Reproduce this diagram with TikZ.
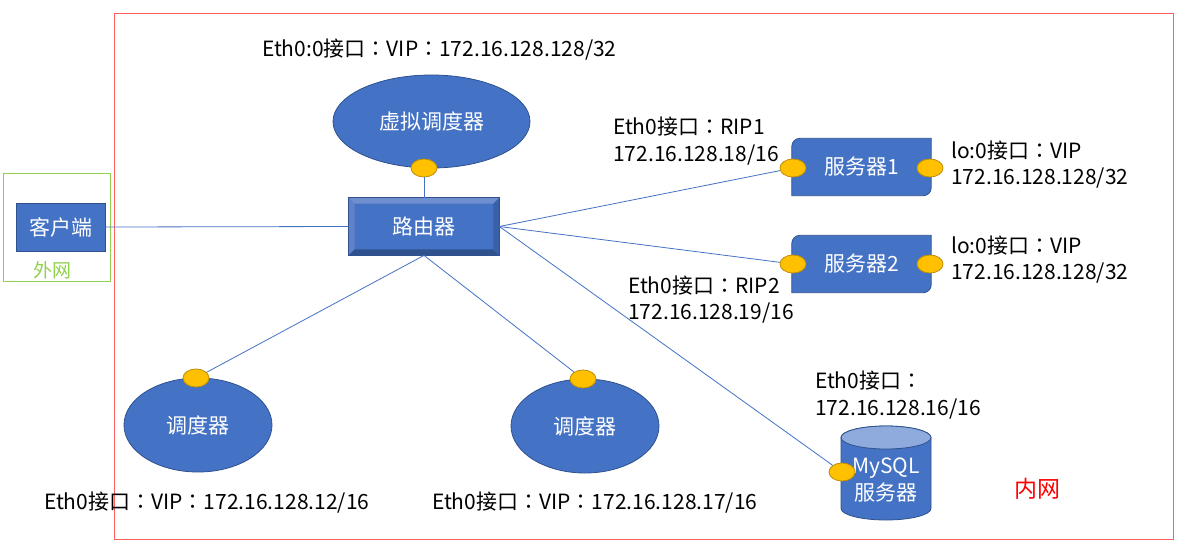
\documentclass[tikz,border=0pt]{standalone}
\usepackage{fontspec}
\setmainfont{Noto Sans CJK SC}
\newfontfamily\tcfont{Noto Sans CJK TC}
\newcommand{\qc}{{\tcfont ：}}
\usetikzlibrary{shapes.geometric,calc,backgrounds}
\definecolor{bfill}{HTML}{4472C4}
\definecolor{bdraw}{HTML}{2F528F}
\definecolor{blight}{HTML}{6F8FD0}
\definecolor{blight2}{HTML}{5F82C8}
\definecolor{bdark}{HTML}{2F528F}
\definecolor{bdark2}{HTML}{3A60A8}
\definecolor{dfill}{HTML}{FFC000}
\definecolor{ddraw}{HTML}{BF9000}
\definecolor{rframe}{HTML}{FF6060}
\definecolor{gframe}{HTML}{92D050}
\definecolor{cyltop}{HTML}{8FAADC}
\tikzset{
  boxst/.style={rectangle, fill=bfill, draw=bdraw, line width=0.8pt, text=white, inner sep=0pt},
  routerst/.style={rectangle, fill=bfill, draw=bdraw, line width=0.8pt, text=white, inner sep=0pt},
  ellst/.style={ellipse, fill=bfill, draw=bdraw, line width=0.8pt, text=white, inner sep=0pt},
  srvst/.style={rectangle, text=white, inner sep=0pt, minimum width=139pt, minimum height=57pt},
  srvshape/.style={fill=bfill, draw=bdraw, line width=0.8pt},
  dotst/.style={ellipse, fill=dfill, draw=ddraw, line width=0.8pt, inner sep=0pt, minimum width=26pt, minimum height=18pt},
  conn/.style={draw=bfill, line width=0.8pt},
  lbl/.style={anchor=west, inner sep=0pt, align=left, text=black}
}
\begin{document}
\begin{tikzpicture}[x=1pt,y=-1pt,font=\fontsize{21}{26.5}\selectfont]
\useasboundingbox (0,0) rectangle (1184,550);
\begin{scope}[on background layer]
\fill[white] (0,0) rectangle (1184,550);
\end{scope}
% frames
\draw[rframe, line width=1pt] (114,13) rectangle (1173,539);
\draw[gframe, line width=1pt] (3,173) rectangle (110,281);
% client
\node[boxst, minimum width=89pt, minimum height=48pt] (cl) at (60.5,227) {客户端};
\node[text=gframe, inner sep=0pt, font=\fontsize{19}{22}\selectfont] (ww) at (53,270) {外网};
% router
\node[routerst, minimum width=150pt, minimum height=57pt] (rt) at (424,226.5) {路由器};
\fill[blight] (rt.north west) -- (rt.north east) -- ($(rt.north east)+(-6,6)$) -- ($(rt.north west)+(6,6)$) -- cycle;
\fill[blight2] (rt.north west) -- ($(rt.north west)+(6,6)$) -- ($(rt.south west)+(6,-6)$) -- (rt.south west) -- cycle;
\fill[bdark] (rt.south west) -- ($(rt.south west)+(6,-6)$) -- ($(rt.south east)+(-6,-6)$) -- (rt.south east) -- cycle;
\fill[bdark2] (rt.north east) -- ($(rt.north east)+(-6,6)$) -- ($(rt.south east)+(-6,-6)$) -- (rt.south east) -- cycle;
\draw[bdraw, line width=0.8pt] (rt.north west) rectangle (rt.south east);
% virtual scheduler
\node[ellst, minimum width=197pt, minimum height=93pt] (vs) at (431.5,121.5) {虚拟调度器};
\node[dotst] (vsd) at (424,168) {};
% schedulers
\node[ellst, minimum width=148pt, minimum height=94pt] (sc1) at (198,425) {调度器};
\node[dotst] (sc1d) at (196,378) {};
\node[ellst, minimum width=148pt, minimum height=94pt] (sc2) at (585,426) {调度器};
\node[dotst] (sc2d) at (583,379) {};
% servers
\node[srvst] (s1) at (861.5,167) {服务器1};
\node[srvst] (s2) at (861.5,264) {服务器2};
\begin{scope}[on background layer]
\foreach \s in {s1,s2}{
  \draw[srvshape] (\s.south west) [rounded corners=8pt] -- (\s.north west) [sharp corners] -- (\s.north east) [rounded corners=8pt] -- (\s.south east) [sharp corners] -- cycle;
}
\end{scope}
\node[dotst] (s1l) at (793,168) {};
\node[dotst] (s1r) at (930,168) {};
\node[dotst] (s2l) at (793,264) {};
\node[dotst] (s2r) at (930,264) {};
% database
\node[inner sep=0pt, align=center, text=white, font=\fontsize{21}{27}\selectfont] (db) at (886,480) {MySQL\\服务器};
\begin{scope}[on background layer]
\draw[srvshape] (841,437.5) -- (841,508.5) arc[start angle=180, end angle=360, x radius=45pt, y radius=11.5pt] -- (931,437.5) arc[start angle=0, end angle=180, x radius=45pt, y radius=11.5pt] -- cycle;
\draw[fill=cyltop, draw=bdraw, line width=0.8pt] (886,437.5) ellipse[x radius=45pt, y radius=11.5pt];
\end{scope}
\node[dotst] (dbd) at (842,472) {};
% connectors
\draw[conn] (cl.east) -- (rt.west);
\draw[conn] (vsd) -- (rt);
\draw[conn] (rt.east) -- (s1l);
\draw[conn] (rt.east) -- (s2l);
\draw[conn] (rt.east) -- (dbd);
\draw[conn] (rt.south) -- (sc1d);
\draw[conn] (rt.south) -- (sc2d);
% labels
\node[lbl] (lvs) at (262,50) {Eth0:0接口\qc VIP\qc 172.16.128.128/32};
\node[lbl] (l1) at (613,141) {Eth0接口\qc RIP1\\172.16.128.18/16};
\node[lbl] (l1r) at (951,164.5) {lo:0接口\qc VIP\\172.16.128.128/32};
\node[lbl] (l2r) at (951,259.5) {lo:0接口\qc VIP\\172.16.128.128/32};
\node[lbl] (l2) at (628,299.5) {Eth0接口\qc RIP2\\172.16.128.19/16};
\node[lbl] (ldb) at (815,395) {Eth0接口\qc\\172.16.128.16/16};
\node[lbl] (ls1) at (44,503) {Eth0接口\qc VIP\qc 172.16.128.12/16};
\node[lbl] (ls2) at (432,503) {Eth0接口\qc VIP\qc 172.16.128.17/16};
\node[text=red, inner sep=0pt, font=\fontsize{23}{26}\selectfont] (nw) at (1037,489) {内网};
\end{tikzpicture}
\end{document}
